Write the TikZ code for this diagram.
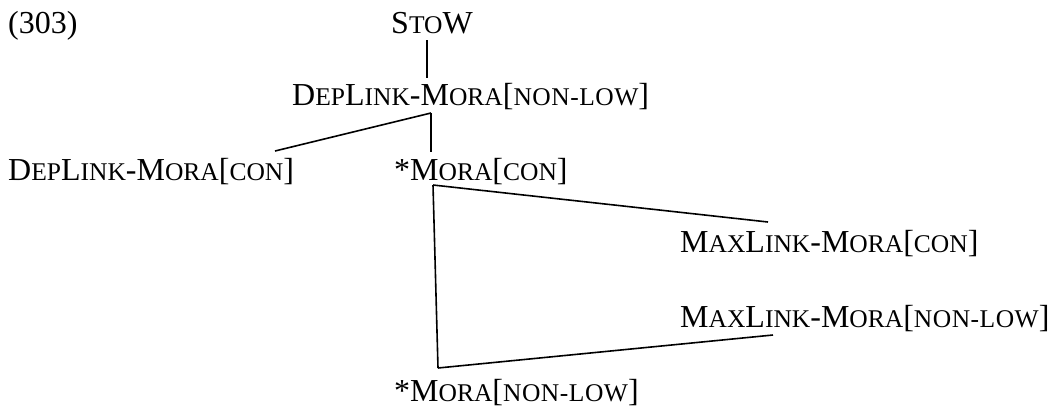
\documentclass[tikz,border=0pt]{standalone}
\usepackage{fontspec}
\setmainfont{Liberation Serif}
\newcommand\smc[1]{{\fontsize{25.5}{30}\selectfont #1}}
\newcommand\smw[1]{{\fontsize{25.5}{30}\selectfont\addfontfeature{LetterSpace=2}#1}}
\begin{document}
\begin{tikzpicture}[x=1pt,y=-1pt,
  lbl/.style={anchor=base west,inner sep=0pt,font=\fontsize{32}{38}\selectfont},
  branch/.style={line width=1.6pt}]
\useasboundingbox (0,0) rectangle (1052,408);
\node[lbl] (num) at (8,33) {(303)};
\node[lbl] (stow) at (391,33) {S\smc{TO}W};
\node[lbl] (dlnl) at (292,105) {D\smc{EP}L\smc{INK}-M\smc{ORA}[\smw{NON-LOW}]};
\node[lbl] (dlc) at (8,180) {D\smc{EP}L\smc{INK}-M\smc{ORA}[\smc{CON}]};
\node[lbl] (mc) at (394,180) {*M\smc{ORA}[\smc{CON}]};
\node[lbl] (mlc) at (680,252) {M\smc{AX}L\smc{INK}-M\smc{ORA}[\smc{CON}]};
\node[lbl] (mlnl) at (680,327) {M\smc{AX}L\smc{INK}-M\smc{ORA}[\smw{NON-LOW}]};
\node[lbl] (mnl) at (394,401) {*M\smc{ORA}[\smw{NON-LOW}]};
% junction points
\coordinate (stowB) at (427,40);
\coordinate (dlnlT) at (427,78);
\coordinate (dlnlB) at (431,113);
\coordinate (dlcT) at (275,151);
\coordinate (mcT) at (431,152);
\coordinate (mcB) at (433,185);
\coordinate (mlcT) at (768,222);
\coordinate (mlnlB) at (773,335);
\coordinate (mnlT) at (438,368);
\draw[branch] (stowB) -- (dlnlT);
\draw[branch] (dlnlB) -- (dlcT);
\draw[branch] (dlnlB) -- (mcT);
\draw[branch] (mcB) -- (mlcT);
\draw[branch] (mcB) -- (mnlT);
\draw[branch] (mnlT) -- (mlnlB);
\end{tikzpicture}
\end{document}
